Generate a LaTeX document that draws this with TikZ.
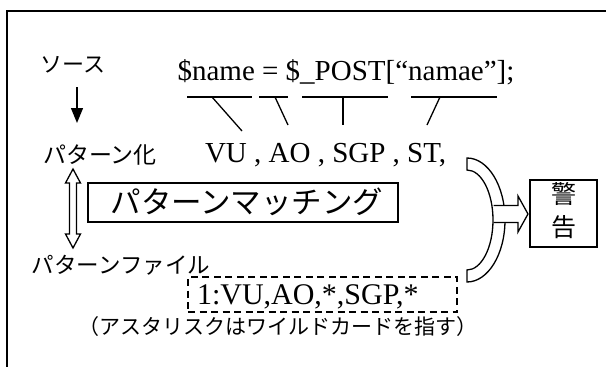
\documentclass[tikz,border=0pt]{standalone}
\usepackage{fontspec}
\setmainfont{Liberation Serif}
\newfontfamily\jp{Noto Sans CJK JP}
\usetikzlibrary{arrows.meta}
\tikzset{
  every node/.style={inner sep=0pt, outer sep=0pt},
  jptext/.style={font=\jp\fontsize{#1}{#1}\selectfont},
  latin/.style={font=\fontsize{29}{29}\selectfont},
  thinline/.style={line width=1.3pt},
  boxline/.style={line width=1.6pt},
  hollow/.style={line width=1.3pt, fill=white, line join=miter}
}
\begin{document}
\begin{tikzpicture}[x=1pt,y=-1pt]
\useasboundingbox (0,0) rectangle (606,367);
% frame (only top and left visible)
\draw[line width=2.2pt] (7,372) -- (7,11) -- (612,11);

% source row
\node[jptext=22] (src) at (73,65) {ソース};
\node[latin, anchor=base] (code) at (346,80) {\$name = \$\_POST[“namae”];};

% down arrow
\coordinate (dtop) at (77,87);
\coordinate (dbot) at (77,123);
\draw[thinline, -{Triangle[length=15pt,width=12pt]}] (dtop) -- (dbot);

% bracket lines
\draw[thinline] (187,97) -- (252,97);
\draw[thinline] (259,97) -- (288,97);
\draw[thinline] (302,97) -- (388,97);
\draw[thinline] (411,97) -- (497,97);
\draw[thinline] (212,97) -- (242,131);
\draw[thinline] (275,97) -- (288,125);
\draw[thinline] (343,97) -- (343,125);
\draw[thinline] (440,97) -- (427,125);

% pattern row
\node[jptext=23] (pat) at (100,155) {パターン化};
\node[latin, anchor=base west] (toks) at (205,162) {VU , AO , SGP , ST,};

% double hollow arrow
\draw[hollow] (73,169) -- (80.5,183) -- (76.5,183) -- (76.5,234) -- (80.5,234)
  -- (73,248) -- (65.5,234) -- (69.5,234) -- (69.5,183) -- (65.5,183) -- cycle;

% matching box
\node[boxline, draw, minimum width=310pt, minimum height=39pt] (match) at (243,202.5) {};
\node[jptext=30.5] (matchtxt) at (247,202) {パターンマッチング};

% curved hollow arrow
\draw[hollow] (467,158) arc[start angle=-90, end angle=90, x radius=38, y radius=62]
  -- (467,270) arc[start angle=90, end angle=-90, x radius=26, y radius=50] -- cycle;
\fill[white] (493.5,205.5) rectangle (518,222.5);
\draw[thinline, line join=miter] (493.5,205.5) -- (518,205.5) -- (518,196) -- (528,214)
  -- (518,232) -- (518,222.5) -- (493.5,222.5);

% warning box
\node[boxline, draw, minimum width=67pt, minimum height=67pt] (warn) at (563.5,213.5) {};
\node[align=center, font=\jp\fontsize{25}{33}\selectfont] (warntxt) at (563.5,211) {警\\告};

% pattern file
\node[jptext=22.5] (pfile) at (121,265) {パターンファイル};
\node[draw, dashed, boxline, dash pattern=on 7pt off 4.5pt, minimum width=269pt, minimum height=35pt] (fbox) at (322.5,294.5) {};
\node[latin, font=\fontsize{30}{30}\selectfont, anchor=base west] (ftxt) at (197,304) {1:VU,AO,*,SGP,*};

% note
\node[jptext=21] (note) at (278,327) {（アスタリスクはワイルドカードを指す）};
\end{tikzpicture}
\end{document}
